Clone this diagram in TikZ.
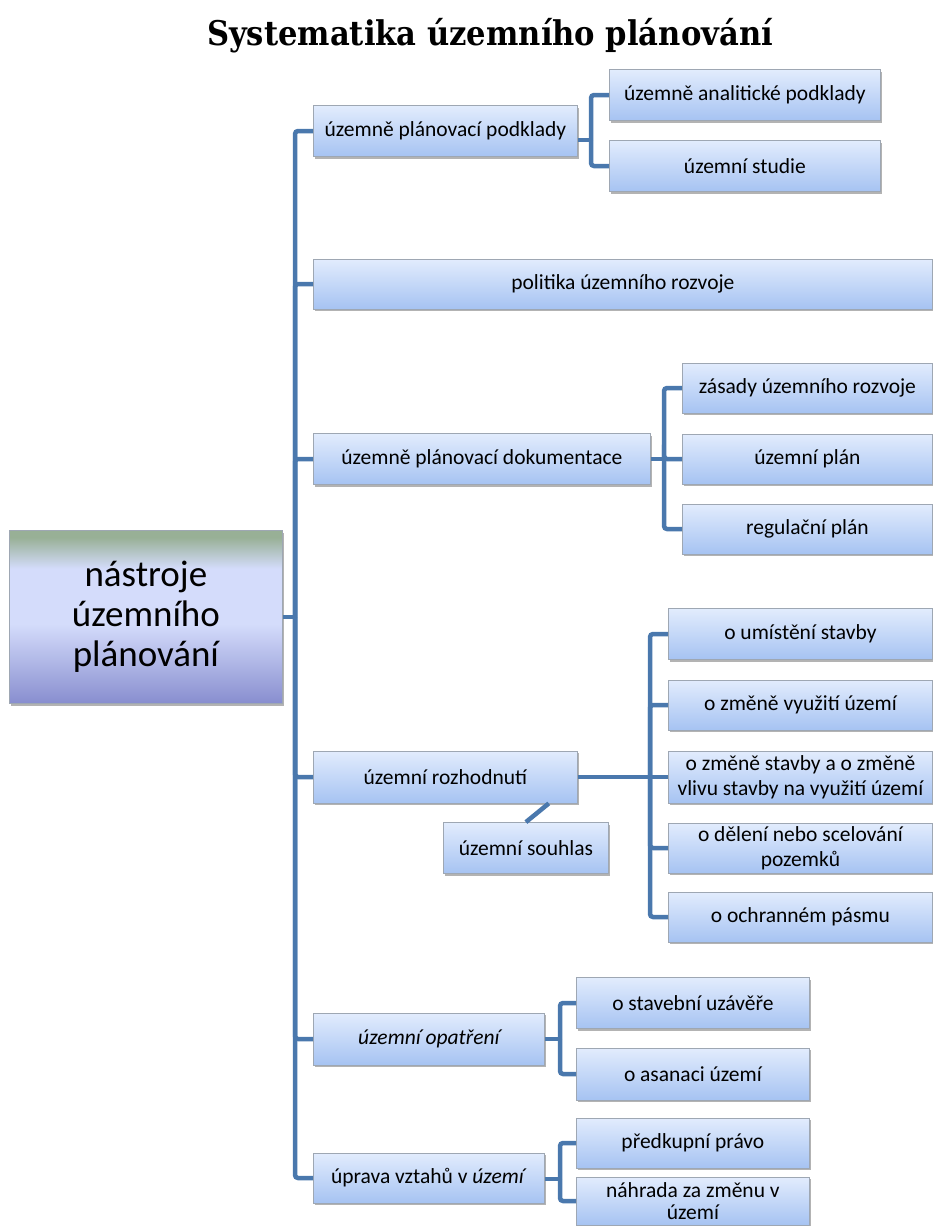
\documentclass[tikz,border=0pt]{standalone}
\usepackage{fontspec}
\setmainfont{Carlito}
\newfontfamily\titlefont{DejaVu Serif Condensed}
\usepackage{tikz}
\usetikzlibrary{shadows}

\definecolor{boxtop}{HTML}{E2ECFD}
\definecolor{boxbot}{HTML}{A6C3F2}
\definecolor{boxline}{HTML}{9EA7B3}
\definecolor{linkblue}{HTML}{4A78AD}
\definecolor{roottop}{HTML}{98B096}
\definecolor{rootmid}{HTML}{D4DCFB}
\definecolor{rootbot}{HTML}{888ECF}
\pgfdeclareverticalshading{rootshade}{100bp}{color(0bp)=(rootbot); color(25bp)=(rootbot);
  color(48bp)=(rootmid); color(64bp)=(rootmid); color(73bp)=(roottop); color(100bp)=(roottop)}

\begin{document}
\begin{tikzpicture}[x=1pt,y=-1pt,
    box/.style={draw=boxline, line width=0.8pt, top color=boxtop, bottom color=boxbot,
      drop shadow={shadow xshift=2pt, shadow yshift=-2pt, fill=black!50, opacity=0.6},
      font=\fontsize{21.5}{25}\selectfont, align=center, inner sep=0pt, anchor=west},
    rootbox/.style={box, shading=rootshade, font=\fontsize{37}{40}\selectfont},
    link/.style={draw=linkblue, line width=4.5pt, rounded corners=3pt}]
  \useasboundingbox (0,0) rectangle (933,1226);
  \node (title) at (490,36) {\titlefont\fontsize{34}{38}\selectfont\bfseries Systematika územního plánování};

  \node[rootbox, minimum width=273pt, minimum height=173pt] (root) at (9,617) {nástroje\\územního\\plánování};

  \node[box, minimum width=264pt, minimum height=51pt] (upp) at (313,131) {územně plánovací podklady};
  \node[box, minimum width=619pt, minimum height=50pt] (pur) at (313,284) {politika územního rozvoje};
  \node[box, minimum width=337pt, minimum height=51pt] (upd) at (313,459) {územně plánovací dokumentace};
  \node[box, minimum width=264pt, minimum height=52pt] (ur) at (313,777) {územní rozhodnutí};
  \node[box, minimum width=231pt, minimum height=52pt] (uo) at (313,1039) {\itshape územní opatření};
  \node[box, minimum width=231pt, minimum height=50pt] (uvu) at (313,1178) {úprava vztahů v \textit{území}};

  \node[box, minimum width=271pt, minimum height=51pt] (uap) at (609,95) {územně analitické podklady};
  \node[box, minimum width=271pt, minimum height=51pt] (ust) at (609,166) {územní studie};

  \node[box, minimum width=250pt, minimum height=50pt] (zur) at (682,388) {zásady územního rozvoje};
  \node[box, minimum width=250pt, minimum height=50pt] (upl) at (682,459) {územní plán};
  \node[box, minimum width=250pt, minimum height=50pt] (rpl) at (682,529) {regulační plán};

  \node[box, minimum width=264pt, minimum height=51pt] (oum) at (668,634) {o umístění stavby};
  \node[box, minimum width=264pt, minimum height=50pt] (ozv) at (668,705) {o změně využití území};
  \node[box, minimum width=264pt, minimum height=52pt] (ozs) at (668,777) {o změně stavby a o změně\\vlivu stavby na využití území};
  \node[box, minimum width=264pt, minimum height=50pt] (odn) at (668,848) {o dělení nebo scelování\\pozemků};
  \node[box, minimum width=264pt, minimum height=50pt] (oop) at (668,917) {o ochranném pásmu};
  \node[box, minimum width=165pt, minimum height=51pt] (usou) at (443,848) {územní souhlas};

  \node[box, minimum width=233pt, minimum height=51pt] (osu) at (576,1003) {o stavební uzávěře};
  \node[box, minimum width=233pt, minimum height=52pt] (oas) at (576,1074) {o asanaci území};
  \node[box, minimum width=233pt, minimum height=50pt] (pkp) at (576,1143) {předkupní právo};
  \node[box, minimum width=233pt, minimum height=48pt, font=\fontsize{21.5}{22}\selectfont] (nzz) at (576,1201) {náhrada za změnu v\\území};

  \coordinate (trunk) at (295,617);
  \coordinate (uppbus) at (591,140);
  \coordinate (updbus) at (664,459);
  \coordinate (urbus) at (650,777);
  \coordinate (uobus) at (560,1039);
  \coordinate (uvubus) at (560,1179);

  \draw[link] (root.east |- trunk) -- (trunk);
  \foreach \n in {upp,pur,upd,ur,uo,uvu}
    \draw[link] (trunk) |- (\n.west);

  \draw[link] (upp.east |- uppbus) -- (uppbus);
  \foreach \n in {uap,ust}
    \draw[link] (uppbus) |- (\n.west);

  \draw[link] (upd.east) -- (updbus);
  \foreach \n in {zur,upl,rpl}
    \draw[link] (updbus) |- (\n.west);

  \draw[link] (ur.east) -- (ozs.west);
  \foreach \n in {oum,ozv,odn,oop}
    \draw[link] (urbus) |- (\n.west);
  \draw[link] ([xshift=-29pt]ur.south east) -- (usou.north);

  \draw[link] (uo.east) -- (uobus);
  \foreach \n in {osu,oas}
    \draw[link] (uobus) |- (\n.west);

  \draw[link] (uvu.east |- uvubus) -- (uvubus);
  \foreach \n in {pkp,nzz}
    \draw[link] (uvubus) |- (\n.west);
\end{tikzpicture}
\end{document}
